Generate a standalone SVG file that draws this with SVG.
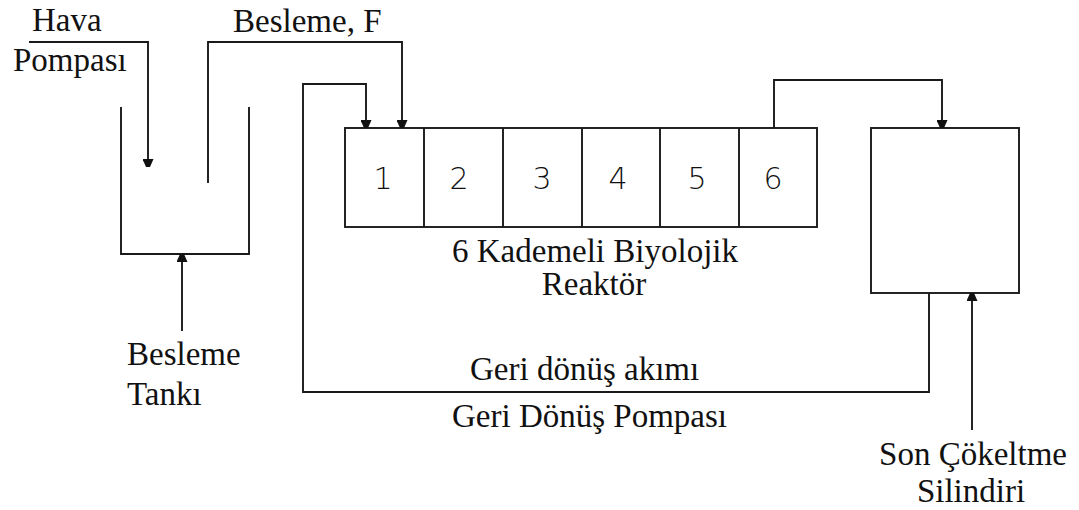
<svg xmlns="http://www.w3.org/2000/svg" width="1079" height="510" viewBox="0 0 1079 510">
  <style>
    .ln { fill: none; stroke: #1a1a1a; stroke-width: 1.9; }
    .box { fill: #ffffff; stroke: #1a1a1a; stroke-width: 1.9; }
    .lbl { font-family: "Liberation Serif", "Times New Roman", serif; font-size: 33px; fill: #111; }
    .num { font-family: "DejaVu Sans", "Liberation Sans", sans-serif; font-size: 30px; font-weight: 300; fill: #111; text-anchor: middle; }
  </style>
  <defs>
    <marker id="arr" viewBox="0 0 8 11" refX="8" refY="5.5" markerWidth="8" markerHeight="11" markerUnits="userSpaceOnUse" orient="auto">
      <path d="M0,0 L8,3.5 L8,7.5 L0,11 Z" fill="#111"/>
    </marker>
  </defs>
  <rect width="1079" height="510" fill="#ffffff"/>

  <g id="feed-tank">
    <path class="ln" d="M121,107 V254 H249 V107"/>
    <text class="lbl" x="127" y="365">Besleme</text>
    <text class="lbl" x="127" y="405">Tankı</text>
  </g>

  <g id="reactor">
    <rect class="box" x="345" y="128" width="472" height="99"/>
    <path class="ln" d="M424,128 V227 M503,128 V227 M582,128 V227 M660,128 V227 M739,128 V227"/>
    <text class="num" x="383" y="189">1</text>
    <text class="num" x="459" y="189">2</text>
    <text class="num" x="542" y="189">3</text>
    <text class="num" x="618" y="189">4</text>
    <text class="num" x="697" y="189">5</text>
    <text class="num" x="773" y="189">6</text>
    <text class="lbl" x="452" y="262">6 Kademeli Biyolojik</text>
    <text class="lbl" x="594" y="295" text-anchor="middle">Reaktör</text>
  </g>

  <g id="settler">
    <rect class="box" x="871" y="128" width="148" height="165"/>
    <text class="lbl" x="973" y="465" text-anchor="middle">Son Çökeltme</text>
    <text class="lbl" x="971" y="502" text-anchor="middle">Silindiri</text>
  </g>

  <g id="air-pump">
    <text class="lbl" x="32" y="31">Hava</text>
    <text class="lbl" x="13" y="71">Pompası</text>
  </g>

  <g id="feed-label">
    <text class="lbl" x="233" y="32">Besleme, F</text>
  </g>

  <g id="recycle-labels">
    <text class="lbl" x="470" y="380">Geri dönüş akımı</text>
    <text class="lbl" x="452" y="427">Geri Dönüş Pompası</text>
  </g>

  <g id="connectors">
    <path class="ln" d="M29,42 H148 V167" marker-end="url(#arr)"/>
    <path class="ln" d="M208,183 V42 H402 V128" marker-end="url(#arr)"/>
    <path class="ln" d="M929,293 V392 H303 V84 H366 V128" marker-end="url(#arr)"/>
    <path class="ln" d="M774,128 V80 H942 V128" marker-end="url(#arr)"/>
    <path class="ln" d="M182,331 V254" marker-end="url(#arr)"/>
    <path class="ln" d="M972,430 V293" marker-end="url(#arr)"/>
  </g>
</svg>
